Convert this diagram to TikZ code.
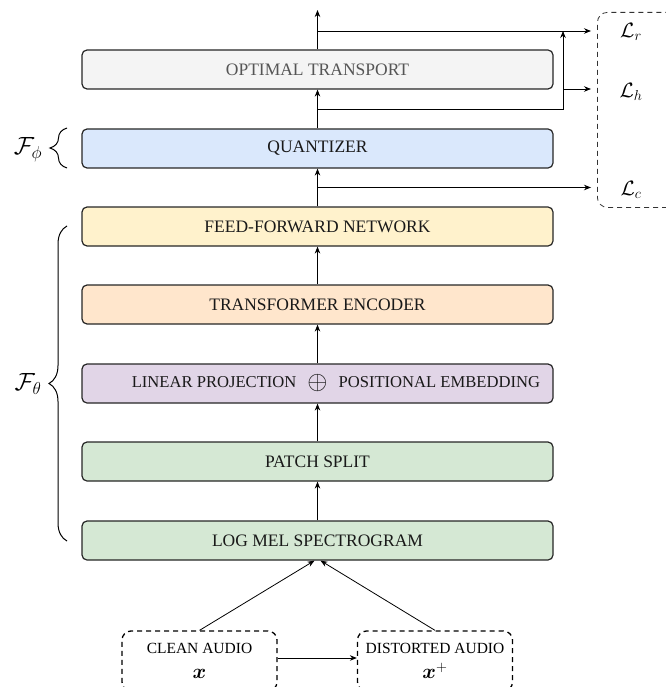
\documentclass[tikz,border=0pt]{standalone}
\usepackage{amsmath}
\usepackage{fontspec}
\setmainfont{Liberation Serif}
\usetikzlibrary{arrows.meta,decorations.pathreplacing}
\definecolor{cot}{HTML}{F4F4F4}
\definecolor{cottext}{HTML}{555555}
\definecolor{cqz}{HTML}{DAE8FC}
\definecolor{cffn}{HTML}{FFF2CC}
\definecolor{ctr}{HTML}{FFE6CC}
\definecolor{clp}{HTML}{E1D5E7}
\definecolor{cgr}{HTML}{D5E8D4}
\begin{document}
\begin{tikzpicture}[x=1pt,y=-1pt,
  blk/.style={draw=black!85, line width=1.2pt, rounded corners=5pt, minimum width=471pt, minimum height=39pt, inner sep=0pt, font=\fontsize{17.5}{20}\selectfont, text=black!90},
  arr/.style={-{Stealth[length=7pt,width=5.5pt]}, line width=0.8pt},
  audio/.style={draw=black, line width=1.3pt, dash pattern=on 5pt off 4pt, rounded corners=9pt, minimum width=155pt, minimum height=60pt, inner sep=0pt, align=center, font=\fontsize{15.5}{18}\selectfont},
  lossl/.style={font=\fontsize{22}{26}\selectfont},
  fl/.style={font=\fontsize{24}{28}\selectfont},
  br/.style={decorate, line width=1pt}]
\useasboundingbox (0,0) rectangle (665,687);
% main blocks
\node[blk, fill=cot, text=cottext] (ot) at (317.5,69.5) {OPTIMAL TRANSPORT};
\node[blk, fill=cqz] (qz) at (317.5,148.5) {QUANTIZER};
\node[blk, fill=cffn] (ffn) at (317.5,226.5) {FEED-FORWARD NETWORK};
\node[blk, fill=ctr] (tr) at (317.5,304.5) {TRANSFORMER ENCODER};
\node[blk, fill=clp, font=\fontsize{16.6}{20}\selectfont] (lp) at (317.5,383.5) {\llap{LINEAR PROJECTION\hspace{11pt}}\raisebox{-2pt}{\scalebox{1.5}{$\oplus$}}\rlap{\hspace{11pt}POSITIONAL EMBEDDING}};
\node[blk, fill=cgr] (ps) at (317.5,461.5) {PATCH SPLIT};
\node[blk, fill=cgr] (lm) at (317.5,540.5) {LOG MEL SPECTROGRAM};
% loss box
\node[draw=black!80, line width=0.8pt, dash pattern=on 5pt off 4pt, rounded corners=10pt, minimum width=110pt, minimum height=195pt, anchor=north west, inner sep=0pt] (loss) at (597,12) {};
\node[lossl] (lr) at (631,32) {$\mathcal{L}_r$};
\node[lossl] (lh) at (631,92) {$\mathcal{L}_h$};
\node[lossl] (lc) at (631,190) {$\mathcal{L}_c$};
% vertical flow
\draw[arr] (lm) -- (ps);
\draw[arr] (ps) -- (lp);
\draw[arr] (lp) -- (tr);
\draw[arr] (tr) -- (ffn);
\draw[arr] (ffn) -- (qz);
\draw[arr] (qz) -- (ot);
\coordinate (top) at (317.5,10);
\draw[arr] (ot) -- (top);
% branches
\coordinate (b1) at (317.5,187.5);
\draw[arr, shorten >=6pt] (b1) -- (b1 -| loss.west);
\coordinate (b2) at (317.5,109);
\coordinate (c2) at (563,109);
\coordinate (b3) at (317.5,31);
\draw[arr] (b2) -- (c2) -- (c2 |- b3);
\coordinate (c3) at (563,89);
\draw[arr, shorten >=6pt] (c3) -- (c3 -| loss.west);
\draw[arr, shorten >=6pt] (b3) -- (b3 -| loss.west);
% braces
\draw[br, decoration={brace, amplitude=17pt}] (67,168) -- (67,128);
\node[fl] (fphi) at (28,150) {$\mathcal{F}_\phi$};
\draw[br, decoration={brace, amplitude=18pt}] (67,541) -- (67,226);
\node[fl] (ftheta) at (28,384) {$\mathcal{F}_\theta$};
% inputs
\node[audio] (clean) at (199.5,661) {CLEAN AUDIO\\[7pt]{\fontsize{22}{22}\selectfont$\boldsymbol{x}$}};
\node[audio] (dist) at (435,661) {DISTORTED AUDIO\\[7pt]{\fontsize{22}{22}\selectfont$\boldsymbol{x}^{+}$}};
\draw[arr] (clean.north) -- ([xshift=-3pt]lm.south);
\draw[arr] (dist.north) -- ([xshift=3pt]lm.south);
\draw[arr] (clean.east |- 0,658) -- (dist.west |- 0,658);
\end{tikzpicture}
\end{document}
